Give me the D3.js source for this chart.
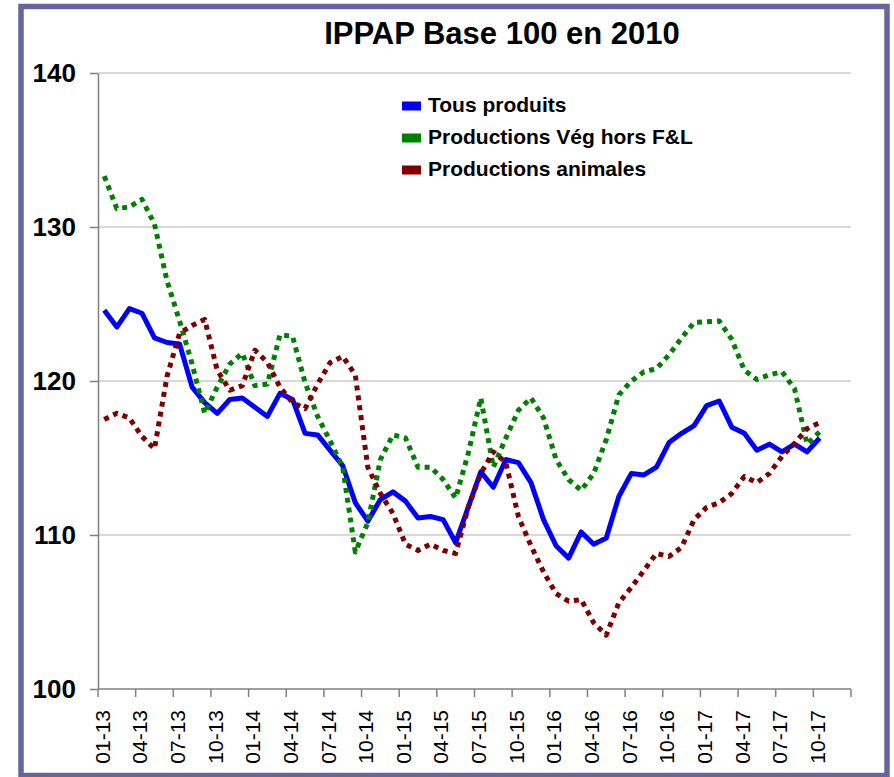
<!DOCTYPE html>
<html>
<head>
<meta charset="utf-8">
<script src="https://cdn.jsdelivr.net/npm/d3@7"></script>
<style>
  html, body { margin: 0; padding: 0; background: #fff; }
  svg { display: block; font-family: "Liberation Sans", Arial, sans-serif; }
</style>
</head>
<body>
<svg id="chart" width="894" height="777"></svg>
<script>
// Monthly categories of the x axis (Jan 2013 – Dec 2017)
const months = [
  "01-13","02-13","03-13","04-13","05-13","06-13","07-13","08-13","09-13","10-13","11-13","12-13",
  "01-14","02-14","03-14","04-14","05-14","06-14","07-14","08-14","09-14","10-14","11-14","12-14",
  "01-15","02-15","03-15","04-15","05-15","06-15","07-15","08-15","09-15","10-15","11-15","12-15",
  "01-16","02-16","03-16","04-16","05-16","06-16","07-16","08-16","09-16","10-16","11-16","12-16",
  "01-17","02-17","03-17","04-17","05-17","06-17","07-17","08-17","09-17","10-17","11-17","12-17"
];

// Labelled months (one every quarter)
const tickLabels = [
  "01-13","04-13","07-13","10-13","01-14","04-14","07-14","10-14","01-15","04-15",
  "07-15","10-15","01-16","04-16","07-16","10-16","01-17","04-17","07-17","10-17"
];

const yTicks = [100, 110, 120, 130, 140];

// IPPAP indices, base 100 in 2010 (Jan 2013 – Oct 2017)
const tousProduits = [
  124.6,123.5,124.7,124.4,122.8,122.5,122.4,119.6,118.6,117.9,118.8,118.9,
  118.3,117.7,119.2,118.8,116.6,116.5,115.5,114.5,112.1,110.9,112.3,112.8,
  112.2,111.1,111.2,111.0,109.5,111.8,114.1,113.1,114.9,114.7,113.4,111.0,
  109.3,108.5,110.2,109.4,109.8,112.5,114.0,113.9,114.4,116.0,116.6,117.1,
  118.4,118.7,117.0,116.6,115.5,115.9,115.4,115.9,115.4,116.3
];

const productionsVeg = [
  133.3,131.2,131.3,131.8,130.2,126.5,123.9,121.1,117.9,119.6,121.1,121.8,
  119.7,119.8,123.0,122.9,119.9,117.7,116.1,114.4,108.9,110.8,114.9,116.5,
  116.3,114.4,114.4,113.6,112.4,115.3,118.9,114.4,116.3,118.1,118.9,117.6,
  114.9,113.6,112.9,114.0,116.2,119.1,120.0,120.6,120.8,121.7,122.8,123.8,
  123.85,123.9,122.7,120.7,120.1,120.4,120.6,119.5,115.9,116.7
];

const productionsAnimales = [
  117.5,117.9,117.6,116.4,115.6,120.3,123.1,123.6,124.0,120.7,119.4,119.7,
  122.0,121.2,119.6,118.6,118.2,119.8,121.2,121.6,120.4,114.4,112.7,111.4,
  109.4,109.0,109.4,109.0,108.8,111.8,114.0,115.4,114.7,111.2,109.3,107.6,
  106.2,105.7,105.8,104.3,103.5,105.6,106.6,107.7,108.8,108.6,109.2,111.0,
  111.8,112.1,112.7,113.8,113.4,114.0,115.1,115.95,116.9,117.3
];

const seriesNames = ["Tous produits", "Productions Vég hors F&L", "Productions animales"];
const seriesColors = ["#0000ff", "#008000", "#800000"];

const svg = d3.select("#chart");
const plot = { left: 98, right: 851, top: 73, bottom: 689 };

// Outer frame
svg.append("rect")
  .attr("x", 21).attr("y", 6.5)
  .attr("width", 866).attr("height", 769)
  .attr("fill", "#fff")
  .attr("stroke", "#66669c")
  .attr("stroke-width", 5.5);

// Title
svg.append("text")
  .attr("x", 502).attr("y", 44)
  .attr("text-anchor", "middle")
  .attr("font-size", 31).attr("font-weight", "bold")
  .text("IPPAP Base 100 en 2010");

const x = d3.scaleBand().domain(months).range([plot.left, plot.right]).padding(0);
const y = d3.scaleLinear().domain([100, 140]).range([plot.bottom, plot.top]);
const cx = m => x(m) + x.bandwidth() / 2;

// Horizontal gridlines
svg.append("g").selectAll("line")
  .data(yTicks.filter(v => v > 100))
  .join("line")
  .attr("x1", plot.left).attr("x2", plot.right)
  .attr("y1", d => y(d)).attr("y2", d => y(d))
  .attr("stroke", "#d9d9d9").attr("stroke-width", 2);

// Y axis
const yAxis = svg.append("g")
  .attr("transform", `translate(${plot.left},0)`)
  .call(d3.axisLeft(y).tickValues(yTicks).tickSize(8).tickPadding(14).tickSizeOuter(0));
yAxis.select(".domain").attr("stroke", "#808080").attr("stroke-width", 1.5);
yAxis.selectAll(".tick line").attr("stroke", "#808080").attr("stroke-width", 1.5);
yAxis.selectAll(".tick text")
  .attr("font-size", 26).attr("font-weight", "bold")
  .attr("fill", "#000")
  .attr("font-family", "'Liberation Sans', Arial, sans-serif");

// X axis: line, tick marks on quarter boundaries, rotated labels
const xAxis = svg.append("g").attr("transform", `translate(0,${plot.bottom})`);
xAxis.append("line")
  .attr("x1", plot.left).attr("x2", plot.right)
  .attr("stroke", "#808080").attr("stroke-width", 1.5);
const boundaries = tickLabels.map(m => x(m)).concat([plot.right]);
xAxis.selectAll("line.tk")
  .data(boundaries)
  .join("line")
  .attr("class", "tk")
  .attr("x1", d => d).attr("x2", d => d)
  .attr("y1", 0).attr("y2", 8)
  .attr("stroke", "#808080").attr("stroke-width", 1.5);
xAxis.selectAll("text")
  .data(tickLabels)
  .join("text")
  .attr("transform", d => `translate(${cx(d) - 2},21) rotate(-90)`)
  .attr("text-anchor", "end")
  .attr("dy", "0.35em")
  .attr("font-size", 21)
  .text(d => d);

// Series lines
const line = d3.line()
  .x((d, i) => cx(months[i]))
  .y(d => y(d));

const series = [tousProduits, productionsVeg, productionsAnimales];
series.forEach((vals, k) => {
  svg.append("path")
    .datum(vals)
    .attr("d", line)
    .attr("fill", "none")
    .attr("stroke", seriesColors[k])
    .attr("stroke-width", 5)
    .attr("stroke-linejoin", "round")
    .attr("stroke-dasharray", k === 0 ? null : "5,5");
});

// Legend
const legend = svg.append("g");
seriesNames.forEach((name, k) => {
  const base = 111.5 + k * 32;
  legend.append("rect")
    .attr("x", 402).attr("y", base - 10)
    .attr("width", 19).attr("height", 9)
    .attr("fill", seriesColors[k]);
  legend.append("text")
    .attr("x", 428).attr("y", base)
    .attr("font-size", 21).attr("font-weight", "bold")
    .text(name);
});
</script>
</body>
</html>
